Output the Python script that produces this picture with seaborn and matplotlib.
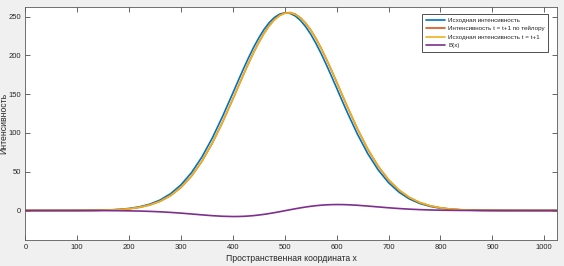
import numpy as np
import pandas as pd
import matplotlib
matplotlib.use("Agg")
import matplotlib.pyplot as plt
import seaborn as sns

# spatial coordinate samples (denser around the peak)
x_coord = [0, 20, 40, 60, 80, 100, 120, 140, 160, 180,
           200, 220, 240, 260, 280, 300, 320, 340, 360, 380,
           400, 410, 420, 430, 440, 450, 460, 470, 480, 490,
           500, 510, 520, 530, 540, 550, 560, 570, 580, 590,
           600, 610, 620, 640, 660, 680, 700, 720, 740, 760,
           780, 800, 820, 840, 860, 880, 900, 920, 940, 960,
           980, 1000, 1020, 1024]

# original intensity
intens_src = [0.0, 0.0, 0.0, 0.01, 0.04, 0.08, 0.17, 0.36, 0.74, 1.43,
              2.67, 4.78, 8.24, 13.64, 21.70, 33.15, 48.68, 68.67, 93.05, 121.2,
              151.6, 167.0, 182.2, 196.8, 210.5, 222.7, 233.5, 242.3, 248.9, 253.2,
              254.9, 254.2, 250.9, 245.2, 237.2, 227.3, 215.5, 202.4, 188.1, 173.1,
              157.8, 142.3, 127.1, 98.4, 73.2, 52.3, 35.9, 23.7, 15.0, 9.14,
              5.35, 3.01, 1.62, 0.84, 0.42, 0.20, 0.09, 0.04, 0.02, 0.01,
              0.0, 0.0, 0.0, 0.0]

# intensity t = t+1 by taylor
intens_taylor = [0.0, 0.0, 0.0, 0.01, 0.03, 0.06, 0.14, 0.30, 0.61, 1.20,
                 2.27, 4.11, 7.16, 11.99, 19.29, 29.80, 44.25, 63.11, 86.44, 113.8,
                 143.9, 159.3, 174.7, 189.7, 204.0, 216.9, 228.6, 238.4, 246.2, 251.7,
                 254.6, 255.2, 253.2, 248.6, 241.7, 232.8, 221.8, 209.3, 195.4, 180.7,
                 165.5, 150.0, 134.6, 105.2, 79.0, 57.0, 39.5, 26.3, 16.8, 10.3,
                 6.09, 3.46, 1.88, 0.98, 0.50, 0.24, 0.11, 0.05, 0.02, 0.01,
                 0.0, 0.0, 0.0, 0.0]

# original intensity t = t+1
intens_next = [0.0, 0.0, 0.0, 0.01, 0.03, 0.07, 0.14, 0.30, 0.62, 1.22,
               2.29, 4.15, 7.22, 12.08, 19.40, 29.94, 44.40, 63.27, 86.60, 113.9,
               143.9, 159.3, 174.7, 189.6, 203.7, 216.8, 228.3, 238.1, 245.9, 251.3,
               254.4, 254.9, 252.9, 248.3, 241.5, 232.5, 221.6, 209.1, 195.4, 180.7,
               165.5, 150.0, 134.7, 105.3, 79.1, 57.1, 39.6, 26.4, 16.9, 10.39,
               6.14, 3.49, 1.90, 1.00, 0.50, 0.24, 0.11, 0.05, 0.02, 0.01,
               0.0, 0.0, 0.0, 0.0]

# B(x)
b_x = [0.0, 0.0, 0.0, 0.0, -0.01, -0.02, -0.03, -0.07, -0.13, -0.23,
       -0.40, -0.67, -1.08, -1.65, -2.41, -3.35, -4.43, -5.56, -6.61, -7.39,
       -7.73, -7.68, -7.47, -7.08, -6.53, -5.79, -4.90, -3.88, -2.74, -1.52,
       -0.26, 1.02, 2.26, 3.43, 4.51, 5.46, 6.25, 6.88, 7.34, 7.62,
       7.73, 7.68, 7.50, 6.79, 5.78, 4.66, 3.55, 2.58, 1.79, 1.18,
       0.74, 0.45, 0.26, 0.14, 0.08, 0.04, 0.02, 0.01, 0.0, 0.0,
       0.0, 0.0, 0.0, 0.0]

labels = ["Исходная интенсивность", "Интенсивность t = t+1 по тейлору",
          "Исходная интенсивность t = t+1", "B(x)"]
colors = ["#0072BD", "#D95319", "#EDB120", "#7E2F8E"]
x_ticks = [0, 100, 200, 300, 400, 500, 600, 700, 800, 900, 1000]
y_ticks = [0, 50, 100, 150, 200, 250]

df = pd.DataFrame({
    "x": x_coord * 4,
    "y": intens_src + intens_taylor + intens_next + b_x,
    "series": sum([[lab] * len(x_coord) for lab in labels], []),
})

sns.set_theme(style="white")
plt.rcParams["font.family"] = ["Liberation Sans", "DejaVu Sans"]

fig = plt.figure(figsize=(5.64, 2.66), dpi=100, facecolor="#f0f0f0")
ax = fig.add_axes([0.0449, 0.0977, 0.9422, 0.8748])
ax.set_facecolor("white")

sns.lineplot(data=df, x="x", y="y", hue="series", hue_order=labels,
             palette=colors, estimator=None, sort=False, linewidth=1.2, ax=ax)

ax.set_xlim(0, 1024)
ax.set_ylim(-38, 262)
ax.set_xticks(x_ticks)
ax.set_yticks(y_ticks)
ax.tick_params(direction="in", length=3.3, width=0.6, color="#4d4d4d",
               labelsize=5.5, labelcolor="#262626", pad=3,
               top=True, right=True, bottom=True, left=True)
for sp in ax.spines.values():
    sp.set_color("#5a5a5a")
    sp.set_linewidth(0.6)

ax.set_xlabel("Пространственная координата x", fontsize=6.2, color="#262626", labelpad=2)
ax.set_ylabel("Интенсивность", fontsize=6.2, color="#262626")
ax.yaxis.set_label_coords(-0.032, 0.5)

leg = ax.legend(loc="upper right", bbox_to_anchor=(0.984, 0.971), borderaxespad=0,
                fontsize=4.5, frameon=True, fancybox=False,
                edgecolor="#333333", framealpha=1, handlelength=3.1,
                labelspacing=0.5, borderpad=0.55, handletextpad=0.5)
leg.get_frame().set_linewidth(0.6)

fig.savefig("out.png", dpi=100, facecolor=fig.get_facecolor())
